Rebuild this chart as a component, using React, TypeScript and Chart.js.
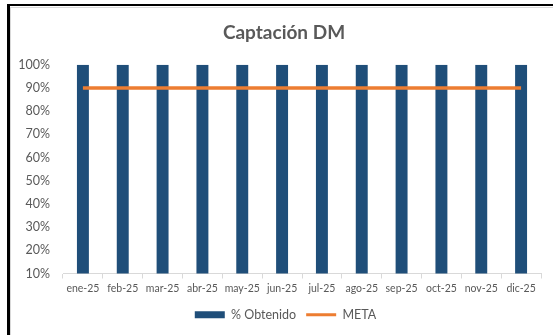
import React, { useEffect, useRef } from "react";
import { Chart, registerables } from "chart.js";

Chart.register(...registerables);

const categories = ["ene-25", "feb-25", "mar-25", "abr-25", "may-25", "jun-25", "jul-25", "ago-25", "sep-25", "oct-25", "nov-25", "dic-25"];
const obtenido = [100, 100, 100, 100, 100, 100, 100, 100, 100, 100, 100, 100];
const meta = [90, 90, 90, 90, 90, 90, 90, 90, 90, 90, 90, 90];
const yTicks = [10, 20, 30, 40, 50, 60, 70, 80, 90, 100];
const titleText = "Captación DM";
const seriesNames = ["% Obtenido", "META"];

const FONT = "Lato, 'Open Sans', sans-serif";
const GRAY = "#595959";

const shiftBoxes = {
  id: "shiftBoxes",
  afterLayout(chart: any) {
    const t = chart.titleBlock;
    if (t) { t.left += 7.5; t.right += 7.5; }
    const l = chart.legend;
    if (l) { l.left += 9; l.right += 9; }
  },
};

export default function App() {
  const ref = useRef<HTMLCanvasElement | null>(null);
  useEffect(() => {
    if (!ref.current) return;
    const chart = new Chart(ref.current, {
      type: "bar",
      data: {
        labels: categories,
        datasets: [
          {
            type: "bar",
            label: seriesNames[0],
            data: obtenido,
            backgroundColor: "#1F4E79",
            borderWidth: 0,
            categoryPercentage: 1,
            barPercentage: 0.3,
            order: 1,
          } as any,
          {
            type: "line",
            label: seriesNames[1],
            data: meta,
            borderColor: "#ED7D31",
            backgroundColor: "#ED7D31",
            borderWidth: 3.5,
            pointRadius: 0,
            pointStyle: "line",
            order: 0,
          } as any,
        ],
      },
      plugins: [shiftBoxes],
      options: {
        responsive: false,
        animation: false,
        layout: { padding: { left: 12, right: 12, top: 10, bottom: 4 } },
        plugins: {
          tooltip: { enabled: false },
          title: {
            display: true,
            text: titleText,
            color: GRAY,
            font: { family: FONT, size: 19, weight: "bold" },
            padding: { top: 11, bottom: 21 },
          },
          legend: {
            position: "bottom",
            labels: {
              color: GRAY,
              font: { family: FONT, size: 12.5 },
              usePointStyle: true,
              pointStyleWidth: 30,
              boxHeight: 7,
              padding: 10,
              sort: (a: any, b: any) => a.datasetIndex - b.datasetIndex,
              generateLabels: (ch: any) => {
                const items = Chart.defaults.plugins.legend.labels.generateLabels(ch);
                items.forEach((it: any) => {
                  if (it.datasetIndex === 0) {
                    it.pointStyle = "rect";
                    it.lineWidth = 0;
                    it.strokeStyle = "#1F4E79";
                  } else {
                    it.pointStyle = "line";
                    it.lineWidth = 3;
                    it.strokeStyle = "#ED7D31";
                  }
                });
                return items;
              },
            },
          },
        },
        scales: {
          x: {
            grid: { display: true, drawOnChartArea: false, drawTicks: true, tickLength: 5, color: "#D9D9D9", offset: true },
            border: { display: true, color: "#D9D9D9" },
            ticks: { color: GRAY, font: { family: FONT, size: 10.5 }, padding: 4, maxRotation: 0, autoSkip: false },
            afterFit: (s: any) => { s.height = 25; },
          },
          y: {
            min: 10,
            max: 100,
            grid: { display: false, drawTicks: false },
            border: { display: false },
            afterBuildTicks: (s: any) => { s.ticks = yTicks.map((v) => ({ value: v })); },
            ticks: {
              color: GRAY,
              font: { family: FONT, size: 12.5 },
              padding: 13,
              callback: (v: any) => v + "%",
            },
            afterFit: (s: any) => { s.width = 51; },
          },
        },
      } as any,
    });
    return () => chart.destroy();
  }, []);

  return (
    <div style={{ position: "absolute", left: 0, top: 0, width: 553, height: 335, background: "#fff", overflow: "hidden" }}>
      <canvas ref={ref} width={553} height={335} style={{ position: "absolute", left: 0, top: 0, width: 553, height: 335 }} />
      <div style={{ position: "absolute", left: 10, top: 7, width: 600, height: 400, borderLeft: "1px solid #D9D9D9", borderTop: "1px solid #D9D9D9" }} />
      <div style={{ position: "absolute", left: 7, top: 4, width: 600, height: 400, borderLeft: "3px solid #000", borderTop: "2px solid #000" }} />
    </div>
  );
}
